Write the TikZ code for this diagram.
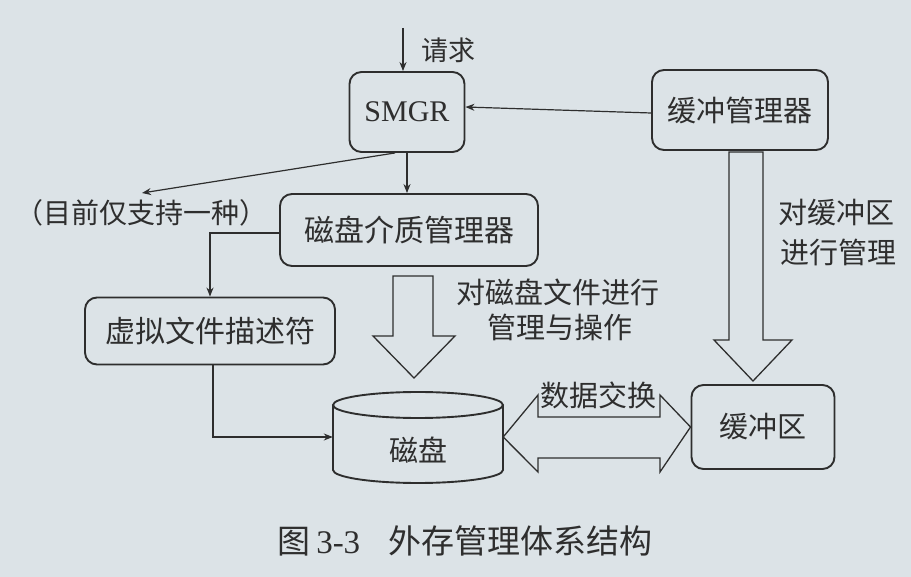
\documentclass[tikz,border=0pt]{standalone}
\usepackage{fontspec}
\setmainfont{Liberation Serif}
\newfontfamily\cjk{Noto Sans CJK SC}
\usetikzlibrary{arrows.meta,calc}
\definecolor{bg}{HTML}{DCE3E7}
\definecolor{ink}{HTML}{2E2E2E}
\begin{document}
\begin{tikzpicture}[x=1pt,y=-1pt,
  box/.style={draw=ink,line width=1.9pt,rounded corners=12pt,inner sep=0pt,text=ink},
  lbl/.style={text=ink,inner sep=0pt,font=\cjk\fontsize{29}{35}\selectfont,align=left},
  conn/.style={draw=ink,line width=1.2pt,-{Stealth[length=9pt,width=7pt]}},
  hollow/.style={draw=ink,line width=1.3pt,fill=none,line join=miter}]
\fill[bg] (0,0) rectangle (911,577);
\useasboundingbox (0,0) rectangle (911,577);
% boxes
\node[box,minimum width=115pt,minimum height=80pt,font=\fontsize{30}{36}\selectfont] (smgr) at (407,112) {SMGR};
\node[box,minimum width=176pt,minimum height=80pt,font=\cjk\fontsize{29}{35}\selectfont] (bm) at (740,110) {缓冲管理器};
\node[box,minimum width=258pt,minimum height=72pt,font=\cjk\fontsize{30}{36}\selectfont] (dmm) at (409,230) {磁盘介质管理器};
\node[box,minimum width=250pt,minimum height=67pt,font=\cjk\fontsize{30}{36}\selectfont] (vfd) at (210,331) {虚拟文件描述符};
\node[box,minimum width=143pt,minimum height=84pt,font=\cjk\fontsize{29}{35}\selectfont] (buf) at (763,427) {缓冲区};
% disk cylinder
\node[minimum width=170pt,minimum height=91pt,inner sep=0pt] (disk) at (418,437) {};
\draw[ink,line width=1.9pt] (333,405) -- (333,470) arc[start angle=180,end angle=0,x radius=85,y radius=13] -- (503,405);
\draw[ink,line width=1.9pt] (418,405) ellipse [x radius=85,y radius=13];
\node[lbl] (disklbl) at (418,450) {磁盘};
% free ends
\coordinate (req) at (403,28);
\coordinate (note) at (142,193);
% labels
\node[lbl,font=\cjk\fontsize{27}{32}\selectfont] (reqlbl) at (448,50) {请求};
\node[lbl,font=\cjk\fontsize{28}{34}\selectfont] (notelbl) at (142,213) {（目前仅支持一种）};
\node[lbl] (op1) at (558,292) {对磁盘文件进行};
\node[lbl] (op2) at (560,327) {管理与操作};
\node[lbl] (bl1) at (836,213) {对缓冲区};
\node[lbl] (bl2) at (838,252) {进行管理};
\node[lbl] (xch) at (598,395) {数据交换};
\node[lbl,font=\fontsize{33}{40}\selectfont] (cap) at (465,541) {{\cjk 图}\,3-3\hspace{28pt}{\cjk 外存管理体系结构}};
% connectors
\draw[conn] (req) -- (req |- smgr.north);
\draw[conn] ([yshift=-3pt]bm.west) -- ([yshift=5pt]smgr.east);
\draw[conn] ([xshift=-12pt]smgr.south) -- (note);
\draw[conn] (smgr.south) -- (smgr.south |- dmm.north);
\draw[conn] ([yshift=-3pt]dmm.west) -| (vfd.north);
\draw[conn] ([xshift=3pt]vfd.south) |- (disk.west);
% hollow arrows
\draw[hollow] (393,276) -- (433,276) -- (433,336) -- (455,336) -- (414,378) -- (373,336) -- (393,336) -- cycle;
\draw[hollow] (729,152) -- (763,152) -- (763,340) -- (792,340) -- (753,381) -- (714,340) -- (729,340) -- cycle;
\draw[hollow] (disk.east) -- (538,395) -- (538,417) -- (660,417) -- (660,395) -- (buf.west) -- (660,472) -- (660,458) -- (538,458) -- (538,472) -- cycle;
\end{tikzpicture}
\end{document}
